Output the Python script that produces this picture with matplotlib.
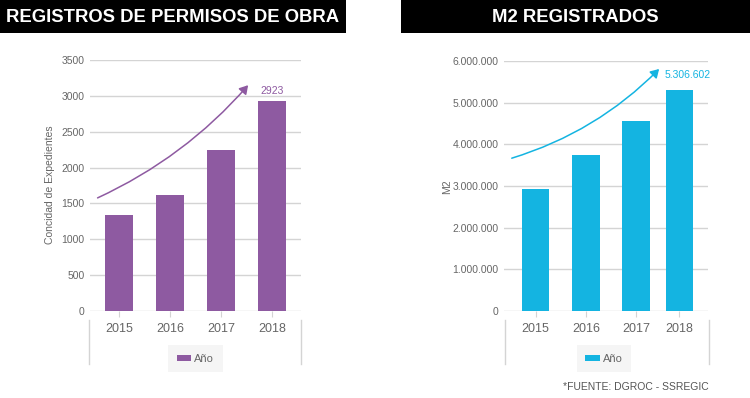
import matplotlib
matplotlib.use("Agg")
import matplotlib.pyplot as plt
from matplotlib.patches import Rectangle, FancyArrowPatch
from matplotlib.lines import Line2D
from matplotlib.ticker import FuncFormatter

plt.rcParams['font.family'] = ['Liberation Sans', 'DejaVu Sans']

years = ["2015", "2016", "2017", "2018"]
permisos = [1334, 1620, 2250, 2923]
m2 = [2928000, 3736000, 4567000, 5306602]
left_title = "REGISTROS DE PERMISOS DE OBRA"
right_title = "M2 REGISTRADOS"
left_ylabel = "Concidad de Expedientes"
right_ylabel = "M2"
legend_label = "Año"
source = "*FUENTE: DGROC - SSREGIC"

PURPLE = "#8e5aa1"
CYAN = "#14b4e1"
GRID = "#d4d4d4"
TXT = "#666666"

W, H = 750, 398
fig = plt.figure(figsize=(7.5, 3.98), dpi=100)
fig.patch.set_facecolor("white")

def fx(px):
    return px / W

def fy(py):
    return 1 - py / H

# title boxes
fig.patches.append(Rectangle((fx(0), fy(33)), fx(346), 33 / H, transform=fig.transFigure,
                             facecolor="black", edgecolor="none"))
fig.patches.append(Rectangle((fx(401), fy(33)), fx(349), 33 / H, transform=fig.transFigure,
                             facecolor="black", edgecolor="none"))
fig.text(fx(173), fy(17), left_title, color="white", fontsize=13.3, fontweight="bold",
         ha="center", va="center")
fig.text(fx(575), fy(17), right_title, color="white", fontsize=13.3, fontweight="bold",
         ha="center", va="center")


def setup(ax, xpos, vals, color, ymax, step, fmt, xlim):
    ax.bar(xpos, vals, width=0.55, color=color, zorder=3)
    ax.set_ylim(0, ymax)
    ax.set_xlim(*xlim)
    ax.set_yticks(range(0, ymax + 1, step))
    ax.yaxis.set_major_formatter(FuncFormatter(fmt))
    ax.grid(axis="y", color=GRID, linewidth=1, zorder=0)
    ax.set_axisbelow(True)
    for s in ax.spines.values():
        s.set_visible(False)
    ax.tick_params(axis="y", length=0, labelsize=7.5, labelcolor=TXT, pad=4)
    ax.set_xticks(xpos)
    ax.set_xticklabels(years)
    ax.tick_params(axis="x", length=4, color=GRID, labelsize=9, labelcolor=TXT, pad=5)
    ax.set_facecolor("none")


# left chart
axL = fig.add_axes([fx(90), fy(311), fx(211), 251 / H])
xL = [0, 1, 2, 3]
setup(axL, xL, permisos, PURPLE, 3500, 500, lambda v, p: f"{int(v)}", (-0.57, 3.57))
axL.annotate(f"{permisos[-1]}", (xL[-1], permisos[-1]), xytext=(0, 4),
             textcoords="offset points", ha="center", va="bottom", color=PURPLE, fontsize=7.5)
axL.add_patch(FancyArrowPatch((0.024, 0.446), (0.758, 0.908), transform=axL.transAxes,
                              connectionstyle="arc3,rad=0.11", arrowstyle="-|>,head_length=5,head_width=3",
                              color=PURPLE, linewidth=1.1, zorder=4))
fig.text(fx(50), fy(185), left_ylabel, rotation=90, ha="center", va="center",
         fontsize=7.5, color=TXT)

# right chart
axR = fig.add_axes([fx(504), fy(311), fx(204), 250 / H])
xR = [0, 1, 2, 2.86]
def dotfmt(v, p):
    return f"{int(v):,}".replace(",", ".")
setup(axR, xR, m2, CYAN, 6000000, 1000000, dotfmt, (-0.63, 3.43))
axR.annotate(dotfmt(m2[-1], None), (xR[-1], m2[-1]), xytext=(6, 7),
             textcoords="offset points", ha="center", va="bottom", color=CYAN, fontsize=7.5)
axR.add_patch(FancyArrowPatch((0.025, 0.608), (0.77, 0.976), transform=axR.transAxes,
                              connectionstyle="arc3,rad=0.13", arrowstyle="-|>,head_length=5,head_width=3",
                              color=CYAN, linewidth=1.1, zorder=4))
fig.text(fx(447), fy(187), right_ylabel, rotation=90, ha="center", va="center",
         fontsize=7.5, color=TXT)

# group frame lines
for x in (89, 301, 505, 709):
    fig.add_artist(Line2D([fx(x), fx(x)], [fy(320), fy(364)], color=GRID, linewidth=1,
                          transform=fig.transFigure))

# legends
for ax, color, cx in ((axL, PURPLE, 195.5), (axR, CYAN, 604)):
    handle = Rectangle((0, 0), 1, 1, facecolor=color, edgecolor="none")
    leg = fig.legend([handle], [legend_label], loc="center", bbox_to_anchor=(fx(cx), fy(358.5)),
                     frameon=True, fancybox=False, fontsize=8, handlelength=1.3, handleheight=0.45,
                     handletextpad=0.3, borderpad=0.75, borderaxespad=0)
    leg.get_frame().set_facecolor("#f3f3f3")
    leg.get_frame().set_edgecolor("none")
    for t in leg.get_texts():
        t.set_color(TXT)

fig.text(fx(709), fy(387), source, ha="right", va="center", fontsize=7.5, color="#555555")

fig.savefig("out.png", dpi=100)
